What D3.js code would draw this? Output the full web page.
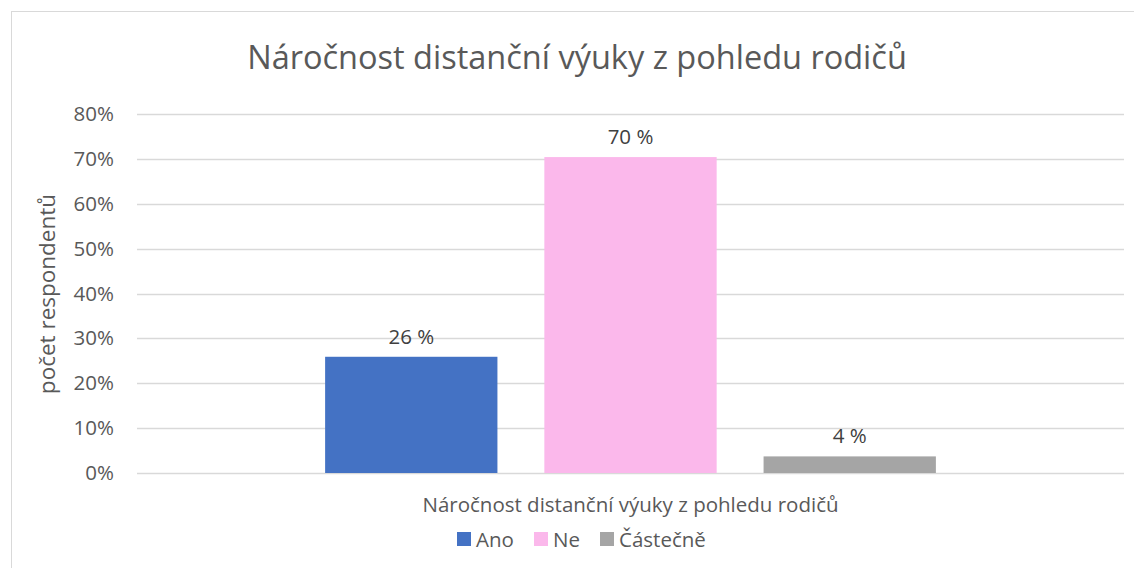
<!DOCTYPE html>
<html>
<head>
<meta charset="utf-8">
<script src="https://cdn.jsdelivr.net/npm/d3@7"></script>
<style>
  body { margin: 0; background: #fff; }
  text { font-family: "Open Sans", "Liberation Sans", sans-serif; }
</style>
</head>
<body>
<svg id="chart" width="1134" height="568"></svg>
<script>
// chart data
const category = "Náročnost distanční výuky z pohledu rodičů";
const seriesNames = ["Ano", "Ne", "Částečně"];
const seriesValues = [25.9, 70.4, 3.7];
const seriesColors = ["#4472c4", "#fbb8eb", "#a5a5a5"];
const yTicks = [0, 10, 20, 30, 40, 50, 60, 70, 80];

const svg = d3.select("#chart");
const W = 1134, H = 568;
const margin = { left: 137, right: 10, top: 114, bottom: 95 };
const width = W - margin.left - margin.right;
const height = H - margin.top - margin.bottom;

// chart border (Excel-like frame)
svg.append("rect")
    .attr("x", 11.5).attr("y", 11.5)
    .attr("width", W).attr("height", H)
    .attr("fill", "none")
    .attr("stroke", "#d9d9d9");

// title
svg.append("text")
    .attr("x", 577).attr("y", 69)
    .attr("text-anchor", "middle")
    .attr("font-size", 32.5)
    .attr("fill", "#595959")
    .text(category);

const g = svg.append("g")
    .attr("transform", `translate(${margin.left},${margin.top})`);

const y = d3.scaleLinear().domain([0, 80]).range([height, 0]);

const x0 = d3.scaleBand().domain([category]).range([0, width]).paddingInner(0).paddingOuter(0.308);
const x1 = d3.scaleBand().domain(seriesNames).range([0, x0.bandwidth()]).paddingInner(0.214);

// gridlines
g.append("g")
    .selectAll("line")
    .data(yTicks)
    .enter().append("line")
    .attr("x1", 0).attr("x2", width)
    .attr("y1", d => Math.round(y(d)) + 0.5)
    .attr("y2", d => Math.round(y(d)) + 0.5)
    .attr("stroke", "#d9d9d9")
    .attr("stroke-width", 1.3);

// y axis labels
const yAxis = g.append("g")
    .call(d3.axisLeft(y).tickValues(yTicks).tickSize(0).tickPadding(23).tickFormat(d => d + "%"));
yAxis.select(".domain").remove();
yAxis.selectAll("text")
    .attr("font-family", "'Open Sans', 'Liberation Sans', sans-serif")
    .attr("font-size", 20.5)
    .attr("fill", "#595959");

// y axis title
svg.append("text")
    .attr("transform", `translate(55,294) rotate(-90)`)
    .attr("text-anchor", "middle")
    .attr("font-size", 22.5)
    .attr("fill", "#595959")
    .text("počet respondentů");

// bars
const bars = g.append("g")
    .attr("transform", `translate(${x0(category)},0)`);

bars.selectAll("rect")
    .data(seriesValues)
    .enter().append("rect")
    .attr("x", (d, i) => x1(seriesNames[i]))
    .attr("y", d => y(d))
    .attr("width", x1.bandwidth())
    .attr("height", d => height - y(d))
    .attr("fill", (d, i) => seriesColors[i]);

// value labels
bars.selectAll(".value-label")
    .data(seriesValues)
    .enter().append("text")
    .attr("class", "value-label")
    .attr("x", (d, i) => x1(seriesNames[i]) + x1.bandwidth() / 2)
    .attr("y", d => y(d) - 13)
    .attr("text-anchor", "middle")
    .attr("font-size", 20.5)
    .attr("fill", "#404040")
    .text(d => d3.format(".0f")(d) + " %");

// category axis label
g.append("text")
    .attr("x", x0(category) + x0.bandwidth() / 2)
    .attr("y", height + 39)
    .attr("text-anchor", "middle")
    .attr("font-size", 20.5)
    .attr("fill", "#595959")
    .text(category);

// legend
const legendX = [457, 534, 600];
const legend = svg.append("g")
    .selectAll("g")
    .data(seriesNames)
    .enter().append("g")
    .attr("transform", (d, i) => `translate(${legendX[i]},532)`);

legend.append("rect")
    .attr("width", 14).attr("height", 14)
    .attr("fill", (d, i) => seriesColors[i]);

legend.append("text")
    .attr("x", 19).attr("y", 15)
    .attr("font-size", 20.5)
    .attr("fill", "#595959")
    .text(d => d);
</script>
</body>
</html>
